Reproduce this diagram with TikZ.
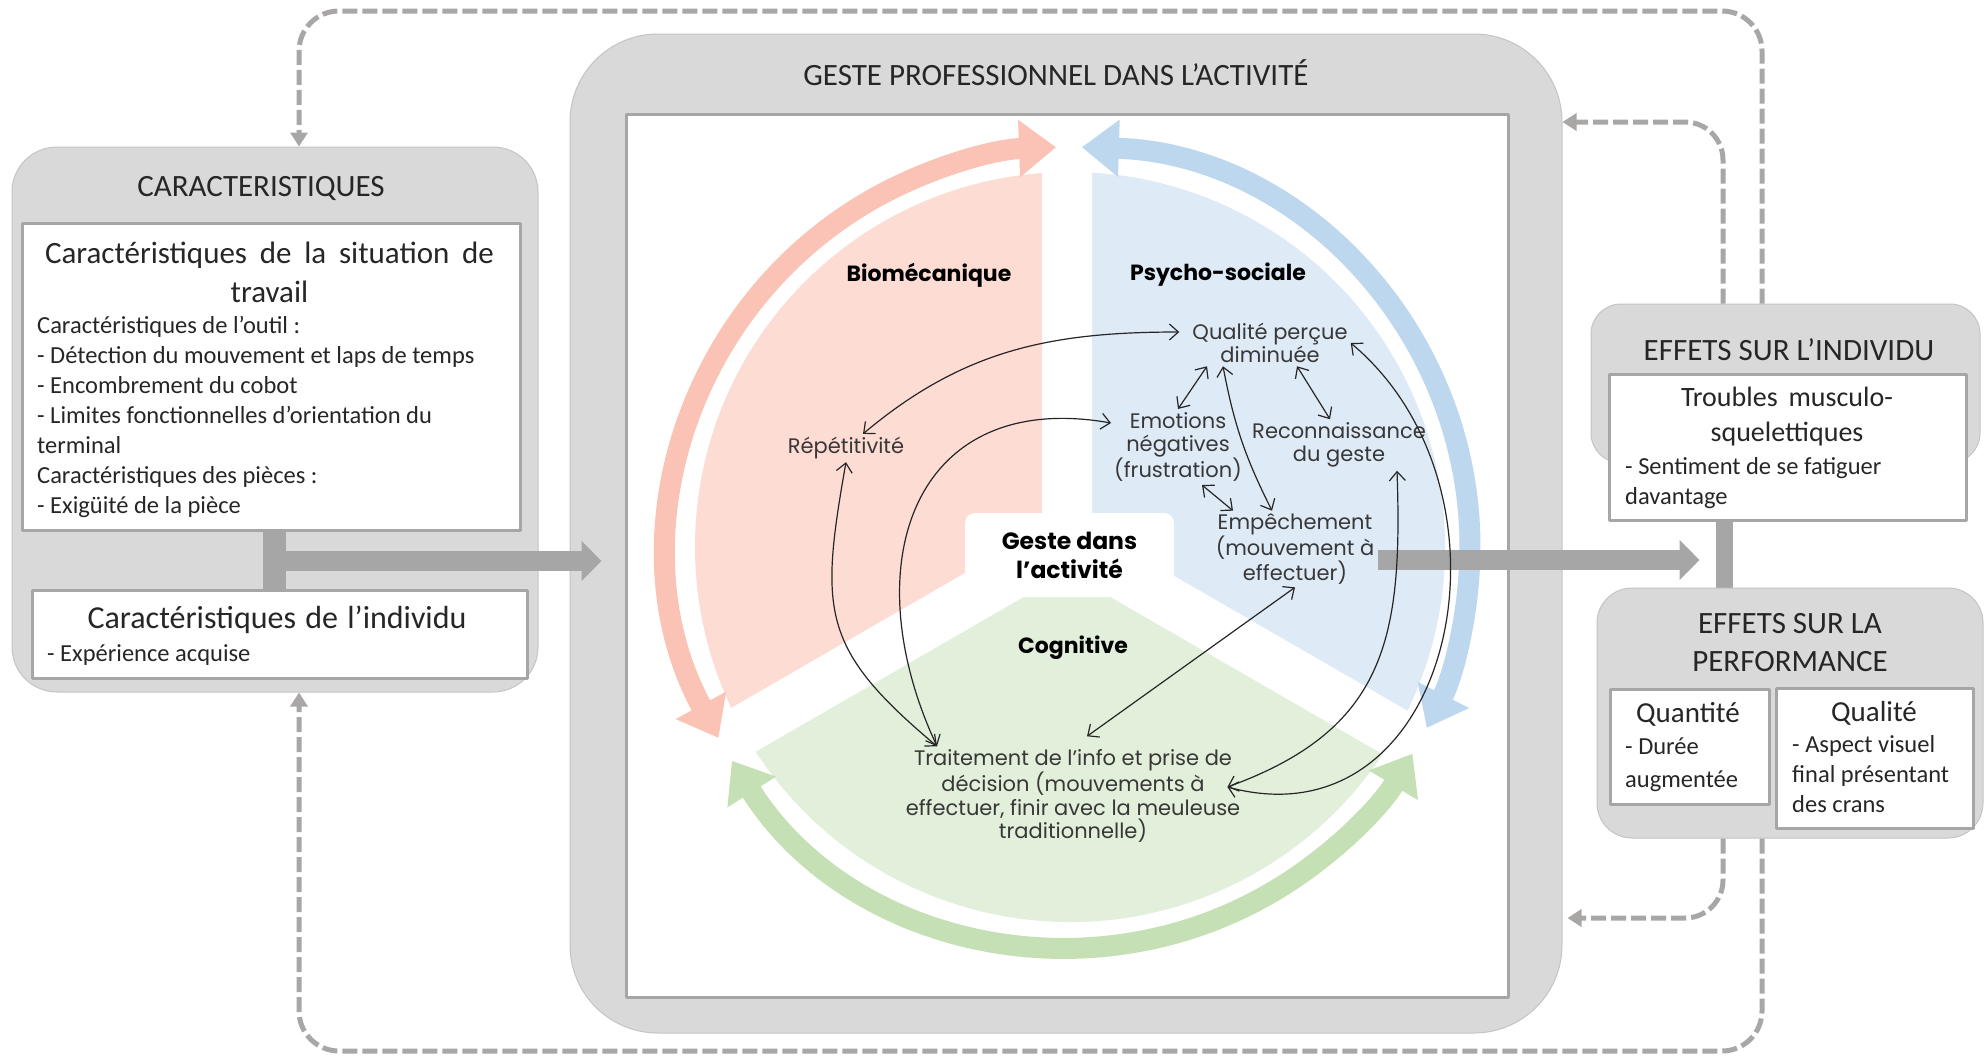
\documentclass[tikz,border=0pt]{standalone}
\usepackage{fontspec}
\setmainfont{Carlito}
\newfontfamily\circfont{Poppins}
\usetikzlibrary{arrows.meta}

\definecolor{boxgray}{HTML}{D9D9D9}
\definecolor{boxedge}{HTML}{C4C4C4}
\definecolor{linegray}{HTML}{A6A6A6}
\definecolor{dashgray}{HTML}{A9A6A6}
\definecolor{textgray}{HTML}{262626}
\definecolor{circgray}{HTML}{383838}
\definecolor{bioband}{HTML}{FAC3B5}
\definecolor{biofill}{HTML}{FDDCD3}
\definecolor{psyband}{HTML}{BDD7EE}
\definecolor{psyfill}{HTML}{DEEAF6}
\definecolor{cogband}{HTML}{C5E0B4}
\definecolor{cogfill}{HTML}{E2EFDA}

\begin{document}
\begin{tikzpicture}[x=1pt,y=1pt,line join=round,
  outerbox/.style={draw=boxedge,line width=1pt,fill=boxgray},
  innerbox/.style={draw=linegray,line width=3pt,fill=white},
  headtext/.style={font=\fontsize{31}{38}\selectfont,text=textgray,align=center,inner sep=0pt},
  subtext/.style={font=\fontsize{29}{37}\selectfont,text=textgray,align=center,inner sep=0pt},
  bodytext/.style={font=\fontsize{24.5}{30}\selectfont,text=textgray,align=left,anchor=north west,inner sep=0pt},
  circtext/.style={font=\circfont\fontsize{21}{23.5}\selectfont,text=circgray,align=center,inner sep=3pt},
  circhead/.style={font=\circfont\bfseries\fontsize{22}{28}\selectfont,align=center,inner sep=2pt},
  feedback/.style={draw=dashgray,line width=5pt,dash pattern=on 15pt off 5pt,rounded corners=40pt,
    -{Triangle[length=14pt,width=17pt]}},
  bar/.style={draw=linegray,line width=#1},
  bar/.default=20pt,
  band/.style={draw=#1,line width=21pt,<->,>={Triangle[length=37pt,width=55pt]}},
  link/.style={draw=black!85,line width=1.2pt,<->,>={Straight Barb[length=9pt,width=16pt]}}]
\useasboundingbox (0,0) rectangle (1984,-1058);

% left column
\node[outerbox,rounded corners=45pt,minimum width=526pt,minimum height=545pt] (carac) at (275,-419.5) {};
\node[headtext] (caractitle) at (261,-188) {CARACTERISTIQUES};
\node[innerbox,minimum width=498pt,minimum height=307pt] (sitbox) at (271,-376.5) {};
\node[subtext,font=\fontsize{31}{39}\selectfont] (sittitle) at (269.5,-272.5)
  {\makebox[449pt][s]{Caractéristiques de la situation de}\\travail};
\node[bodytext] (sitlist) at (37,-316.5) {Caractéristiques de l’outil :\\
  - Détection du mouvement et laps de temps\\
  - Encombrement du cobot\\
  - Limites fonctionnelles d’orientation du\\
  terminal\\
  Caractéristiques des pièces :\\
  - Exigüité de la pièce};
\node[innerbox,minimum width=495pt,minimum height=88pt] (indivbox) at (279.5,-634) {};
\node[subtext,font=\fontsize{32}{39}\selectfont] (indivtitle) at (277,-620)
  {\makebox[379pt][s]{Caractéristiques de l’individu}};
\node[bodytext,anchor=base west] (indivlist) at (47,-661) {- Expérience acquise};

% central frame
\node[outerbox,rounded corners=88pt,minimum width=992pt,minimum height=999pt] (geste) at (1066,-533.5) {};
\node[headtext] (gestetitle) at (1056,-73) {GESTE PROFESSIONNEL DANS L’ACTIVITÉ};
\node[innerbox,minimum width=882pt,minimum height=883pt] (frame) at (1067,-555.5) {};

% three sectors
\coordinate (hub) at (1070,-547);
\coordinate (ycen) at (1067,-543);
\fill[biofill] (hub) -- ++(90:375) arc[start angle=90,end angle=210,radius=375] -- cycle;
\fill[psyfill] (hub) -- ++(-30:375) arc[start angle=-30,end angle=90,radius=375] -- cycle;
\fill[cogfill] (hub) -- ++(210:375) arc[start angle=210,end angle=330,radius=375] -- cycle;
\draw[white,line width=50pt] (ycen) -- ++(90:388) (ycen) -- ++(210:385) (ycen) -- ++(330:385);
\node[fill=white,rounded corners=10pt,minimum width=209pt,minimum height=84pt,
  circhead,font=\circfont\bfseries\fontsize{23.5}{29}\selectfont] (core) at (1069.5,-555) {Geste dans\\l’activité};

% arrows round the circle
\draw[band=bioband] ([shift={(208.5:400)}]hub) arc[start angle=208.5,end angle=92,radius=400];
\draw[band=psyband] ([shift={(88.3:400)}]hub) arc[start angle=88.3,end angle=-26.9,radius=400];
\draw[band=cogband] ([shift={(212.3:400)}]hub) arc[start angle=212.3,end angle=328.9,radius=400];

\node[circhead] (bio) at (929,-275) {Biomécanique};
\node[circhead] (psy) at (1218,-275) {Psycho-sociale};
\node[circhead] (cog) at (1073,-648) {Cognitive};

\node[circtext] (rep) at (846,-448) {Répétitivité};
\node[circtext] (qual) at (1270,-343) {Qualité perçue\\diminuée};
\node[circtext] (emo) at (1178,-447) {Emotions\\négatives\\(frustration)};
\node[circtext] (reco) at (1339,-445) {Reconnaissance\\du geste};
\node[circtext] (empe) at (1295,-549) {Empêchement\\(mouvement à\\effectuer)};
\node[circtext] (trait) at (1073,-796) {Traitement de l’info et prise de\\décision (mouvements à\\effectuer, finir avec la meuleuse\\traditionnelle)};

% grey links
\coordinate (cjoin) at (274.5,-561);
\draw[bar=23pt] (sitbox.south -| cjoin) -- (indivbox.north -| cjoin);
\draw[bar,-{Triangle[length=20pt,width=39pt]}] (cjoin) -- ([xshift=32pt]geste.west |- cjoin);
\coordinate (effout) at (1378,-560);
\coordinate (effbar) at (1724.5,-560);
\draw[bar,-{Triangle[length=20pt,width=39pt]}] (effout) -- ([xshift=-25pt]effbar);

% relations
\draw[link] ([xshift=17pt]rep.north) to[out=40,in=180] ([xshift=-10pt,yshift=11pt]qual.west);
\draw[link] ([xshift=-136pt]trait.north) to[out=115,in=170,looseness=1.4] ([yshift=24pt]emo.west);
\draw[link] (rep.south) to[out=-100,in=140,looseness=1.3] ([xshift=-136pt]trait.north);
\draw[link] ([xshift=-63pt]qual.south) -- (emo.north);
\draw[link] ([xshift=27pt]qual.south) -- ([xshift=-9pt]reco.north);
\draw[link] ([xshift=-47pt]qual.south) to[bend right=8] ([xshift=-23pt]empe.north);
\draw[link] ([xshift=24pt]emo.south) -- ([xshift=-62pt]empe.north);
\draw[link] (empe.south) -- ([xshift=14pt,yshift=10pt]trait.north);
\draw[link] ([xshift=58pt]reco.south) to[out=-88,in=20,looseness=1.2] ([xshift=-16pt,yshift=9pt]trait.east);
\draw[link] (qual.east) to[out=-40,in=-15,looseness=1.3] ([xshift=-16pt,yshift=9pt]trait.east);

% right column
\node[outerbox,rounded corners=30pt,minimum width=389pt,minimum height=159pt] (indiv) at (1785.5,-383.5) {};
\node[headtext] (indivhead) at (1789,-350) {EFFETS SUR L’INDIVIDU};
\node[innerbox,minimum width=357pt,minimum height=146pt] (indivin) at (1787.5,-447) {};
\node[subtext,font=\fontsize{28}{35}\selectfont] (tms) at (1787,-416.5) {\makebox[212pt][s]{Troubles musculo-}\\squelettiques};
\node[bodytext,font=\fontsize{24.5}{29.5}\selectfont] (tmslist) at (1625,-457.5) {- Sentiment de se fatiguer\\davantage};
\draw[bar=17pt] (indivin.south -| effbar) -- (effbar |- 0,-588);
\node[outerbox,rounded corners=35pt,minimum width=386pt,minimum height=250pt] (perf) at (1790,-713) {};
\node[headtext] (perfhead) at (1790,-642.5) {EFFETS SUR LA\\PERFORMANCE};
\node[innerbox,minimum width=159pt,minimum height=115pt] (quant) at (1689.5,-746.5) {};
\node[subtext] (quanthead) at (1688,-714) {Quantité};
\node[bodytext,font=\fontsize{24.5}{33}\selectfont] (quantlist) at (1625,-737.5) {- Durée\\augmentée};
\node[innerbox,minimum width=197pt,minimum height=140pt] (qualit) at (1874.5,-758) {};
\node[subtext] (qualithead) at (1874,-713) {Qualité};
\node[bodytext,font=\fontsize{24.5}{30}\selectfont] (qualitlist) at (1792,-735.5) {- Aspect visuel\\final présentant\\des crans};

% feedback loops
\coordinate (outerx) at (1762,0);
\coordinate (innerx) at (1723,0);
\coordinate (toprow) at (299,-11);
\coordinate (botrow) at (299,-1051);
\coordinate (backtop) at (0,-122);
\coordinate (backbot) at (0,-918);
\draw[feedback] (indiv.north -| outerx) |- (toprow) -- (carac.north -| toprow);
\draw[feedback] (perf.south -| outerx) |- (botrow) -- (carac.south -| botrow);
\draw[feedback,rounded corners=38pt] (indiv.north -| innerx) |- (geste.east |- backtop);
\draw[feedback,rounded corners=38pt] (perf.south -| innerx) |- ([xshift=5pt]geste.east |- backbot);
\end{tikzpicture}
\end{document}
